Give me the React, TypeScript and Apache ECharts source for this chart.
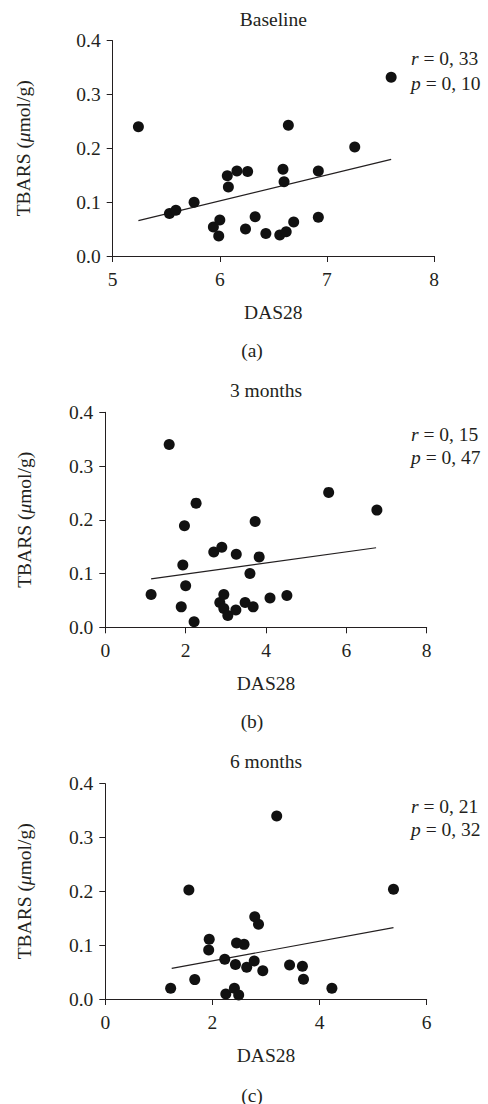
import React, { useEffect, useRef } from "react";
import * as echarts from "echarts";

// Panel (a) Baseline
const baselineX = [5.24, 5.53, 5.59, 5.76, 5.94, 6.0, 5.99, 6.07, 6.08, 6.16, 6.26, 6.24, 6.33, 6.43, 6.56, 6.62, 6.69, 6.59, 6.6, 6.64, 6.92, 6.92, 7.26, 7.6];
const baselineY = [0.24, 0.079, 0.085, 0.1, 0.054, 0.067, 0.037, 0.149, 0.128, 0.158, 0.157, 0.05, 0.073, 0.042, 0.039, 0.045, 0.063, 0.161, 0.138, 0.243, 0.158, 0.072, 0.2025, 0.332];
const baselineTrend = [[5.24, 0.0656], [7.6, 0.1796]];

// Panel (b) 3 months
const m3X = [1.14, 1.59, 1.89, 1.93, 1.97, 2.0, 2.21, 2.26, 2.7, 2.9, 2.85, 2.95, 2.95, 3.05, 3.25, 3.26, 3.48, 3.6, 3.68, 3.73, 3.83, 4.1, 4.52, 5.56, 6.76];
const m3Y = [0.061, 0.34, 0.038, 0.116, 0.189, 0.0775, 0.0105, 0.231, 0.14, 0.149, 0.046, 0.061, 0.035, 0.022, 0.032, 0.136, 0.046, 0.1, 0.038, 0.197, 0.131, 0.0546, 0.059, 0.251, 0.218];
const m3Trend = [[1.14, 0.09], [6.74, 0.148]];

// Panel (c) 6 months
const m6X = [1.22, 1.56, 1.67, 1.94, 1.93, 2.23, 2.25, 2.41, 2.45, 2.43, 2.49, 2.59, 2.64, 2.78, 2.79, 2.86, 2.94, 3.2, 3.44, 3.68, 3.7, 4.23, 5.38];
const m6Y = [0.0198, 0.2025, 0.036, 0.111, 0.091, 0.0737, 0.0093, 0.0198, 0.104, 0.064, 0.0074, 0.1015, 0.0588, 0.0706, 0.153, 0.139, 0.0526, 0.34, 0.063, 0.061, 0.0365, 0.0198, 0.204];
const m6Trend = [[1.24, 0.057], [5.38, 0.1325]];

const titles = ["Baseline", "3 months", "6 months"];
const subLabels = ["(a)", "(b)", "(c)"];
const rValues = ["0, 33", "0, 15", "0, 21"];
const pValues = ["0, 10", "0, 47", "0, 32"];
const yTicks = { min: 0, max: 0.4, interval: 0.1 };
const xRanges = [
  { min: 5, max: 8, interval: 1 },
  { min: 0, max: 8, interval: 2 },
  { min: 0, max: 6, interval: 2 },
];
const xName = "DAS28";

const FONT = "'Liberation Serif', 'Times New Roman', serif";
const INK = "#231f20";
const FS = 19.5;

export default function App() {
  const ref = useRef<HTMLDivElement>(null);
  useEffect(() => {
    if (!ref.current) return;
    const chart = echarts.init(ref.current, null, { renderer: "svg" });

    const grids = [
      { left: 112.7, top: 40.7, width: 321.3, height: 215.3 },
      { left: 105.3, top: 412.3, width: 321.4, height: 215 },
      { left: 105.3, top: 783.7, width: 321.4, height: 215.3 },
    ];
    const yNameGaps = [79, 71, 71];
    const titleY = [19, 390, 761.7];
    const subY = [350, 721, 1095];
    const rY = [58.5, 434, 806];
    const pY = [83, 457, 829.5];

    const scatterData = [
      baselineX.map((x, i) => [x, baselineY[i]]),
      m3X.map((x, i) => [x, m3Y[i]]),
      m6X.map((x, i) => [x, m6Y[i]]),
    ];
    const trends = [baselineTrend, m3Trend, m6Trend];

    const textBase = { fontFamily: FONT, fontSize: FS, fill: INK };
    const graphics: any[] = [];
    grids.forEach((g, i) => {
      const cx = g.left + g.width / 2;
      graphics.push({
        type: "text",
        x: cx,
        y: titleY[i],
        style: { ...textBase, text: titles[i], textAlign: "center", textVerticalAlign: "middle" },
      });
      graphics.push({
        type: "text",
        x: 252,
        y: subY[i],
        style: { ...textBase, text: subLabels[i], textAlign: "center", textVerticalAlign: "middle" },
      });
      graphics.push({
        type: "text",
        x: 411,
        y: rY[i],
        style: {
          ...textBase,
          text: "{i|r} = " + rValues[i],
          textAlign: "left",
          textVerticalAlign: "middle",
          rich: { i: { fontStyle: "italic", fontFamily: FONT, fontSize: FS, fill: INK } },
        },
      });
      graphics.push({
        type: "text",
        x: 411,
        y: pY[i],
        style: {
          ...textBase,
          text: "{i|p} = " + pValues[i],
          textAlign: "left",
          textVerticalAlign: "middle",
          rich: { i: { fontStyle: "italic", fontFamily: FONT, fontSize: FS, fill: INK } },
        },
      });
    });

    const axisCommon = {
      axisLine: { show: true, onZero: false, lineStyle: { color: INK, width: 1 } },
      axisTick: { show: true, inside: false, length: 6, lineStyle: { color: INK, width: 1 } },
      splitLine: { show: false },
    };

    chart.setOption({
      animation: false,
      backgroundColor: "#ffffff",
      grid: grids.map((g) => ({ ...g, containLabel: false })),
      xAxis: grids.map((_, i) => ({
        type: "value",
        gridIndex: i,
        min: xRanges[i].min,
        max: xRanges[i].max,
        interval: xRanges[i].interval,
        name: xName,
        nameLocation: "middle",
        nameGap: 46,
        nameTextStyle: { fontFamily: FONT, fontSize: FS, color: INK },
        axisLabel: { fontFamily: FONT, fontSize: FS, color: INK, margin: 13 },
        ...axisCommon,
      })),
      yAxis: grids.map((_, i) => ({
        type: "value",
        gridIndex: i,
        min: yTicks.min,
        max: yTicks.max,
        interval: yTicks.interval,
        name: "TBARS ({i|μ}mol/g)",
        nameLocation: "middle",
        nameGap: yNameGaps[i],
        nameRotate: 90,
        nameTextStyle: {
          fontFamily: FONT,
          fontSize: FS,
          color: INK,
          rich: { i: { fontStyle: "italic", fontFamily: FONT, fontSize: FS, color: INK } },
        },
        axisLabel: {
          fontFamily: FONT,
          fontSize: FS,
          color: INK,
          margin: 12,
          formatter: (v: number) => v.toFixed(1),
        },
        ...axisCommon,
      })),
      series: [
        ...scatterData.map((d, i) => ({
          type: "scatter",
          xAxisIndex: i,
          yAxisIndex: i,
          data: d,
          symbol: "circle",
          symbolSize: 11,
          itemStyle: { color: "#111", opacity: 1 },
          z: 3,
        })),
        ...trends.map((t, i) => ({
          type: "line",
          xAxisIndex: i,
          yAxisIndex: i,
          data: t,
          showSymbol: false,
          symbol: "none",
          lineStyle: { color: INK, width: 1.2 },
          z: 2,
        })),
      ],
      graphic: graphics,
    });

    return () => chart.dispose();
  }, []);

  return (
    <div
      ref={ref}
      style={{ position: "fixed", left: 0, top: 0, width: 488, height: 1104, background: "#fff" }}
    />
  );
}
